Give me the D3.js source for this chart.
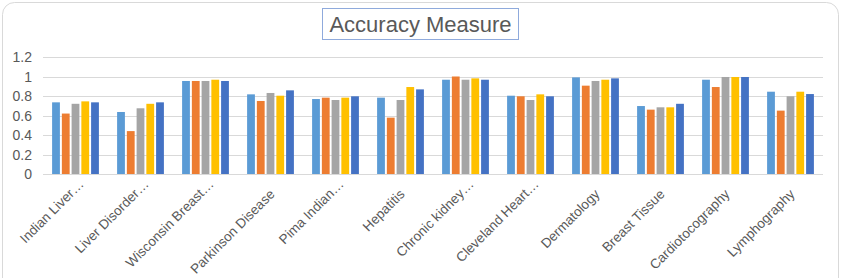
<!DOCTYPE html>
<html><head><meta charset="utf-8">
<script src="https://cdn.jsdelivr.net/npm/d3@7"></script>
<style>
html,body{margin:0;padding:0;background:#fff;}
svg{display:block;font-family:"Liberation Sans",Arial,sans-serif;}
</style></head>
<body><svg id="chart" width="845" height="278"></svg>
<script>
const categories = ["Indian Liver…","Liver Disorder…","Wisconsin Breast…","Parkinson Disease","Pima Indian…","Hepatitis","Chronic kidney…","Cleveland Heart…","Dermatology","Breast Tissue","Cardiotocography","Lymphography"];
const seriesNames = ["S1","S2","S3","S4","S5"];
const s1 = [0.735,0.636,0.954,0.817,0.769,0.783,0.967,0.803,0.991,0.697,0.967,0.844];
const s2 = [0.62,0.44,0.954,0.749,0.783,0.578,1.0,0.797,0.906,0.66,0.892,0.65];
const s3 = [0.72,0.674,0.954,0.831,0.759,0.759,0.967,0.759,0.954,0.684,0.995,0.797];
const s4 = [0.745,0.72,0.967,0.803,0.783,0.892,0.981,0.817,0.967,0.684,0.995,0.844];
const s5 = [0.735,0.735,0.954,0.858,0.797,0.868,0.967,0.797,0.981,0.72,0.995,0.82];
const yTicks = [0,0.2,0.4,0.6,0.8,1,1.2];
const colors = ["#5B9BD5","#ED7D31","#A5A5A5","#FFC000","#4472C4"];
const title = "Accuracy Measure";

(function(){
const series = [s1,s2,s3,s4,s5];
const svg = d3.select("#chart");

// outer chart border
svg.append("rect").attr("x",2.5).attr("y",2.5).attr("width",836).attr("height",320)
  .attr("rx",12).attr("fill","#fff").attr("stroke","#D9D9D9").attr("stroke-width",1);

const pLeft = 43, pRight = 823, pTop = 57, pBottom = 174;
const y = d3.scaleLinear().domain([0,1.2]).range([pBottom, pTop]);
const x0 = d3.scaleBand().domain(categories).range([pLeft,pRight]).paddingInner(0.28).paddingOuter(0.14);
const x1 = d3.scaleBand().domain(seriesNames).range([0,x0.bandwidth()]).paddingInner(0.2);

// gridlines
svg.append("g").selectAll("line").data(yTicks).join("line")
  .attr("x1",pLeft).attr("x2",pRight)
  .attr("y1",d=>Math.round(y(d))+0.5).attr("y2",d=>Math.round(y(d))+0.5)
  .attr("stroke","#D9D9D9").attr("stroke-width",1);

// y labels
svg.append("g").selectAll("text").data(yTicks).join("text")
  .attr("x",32).attr("y",d=>y(d)).attr("dy","0.36em")
  .attr("text-anchor","end").attr("font-size",14).attr("fill","#595959")
  .text(d=>d3.format("~g")(d));

// bars
const groups = svg.append("g").selectAll("g").data(categories).join("g")
  .attr("transform",d=>`translate(${x0(d)},0)`);
groups.selectAll("rect").data((c,i)=>series.map((s,j)=>({k:seriesNames[j],v:s[i],j})))
  .join("rect")
  .attr("x",d=>x1(d.k)).attr("width",x1.bandwidth())
  .attr("y",d=>y(d.v)).attr("height",d=>y(0)-y(d.v))
  .attr("fill",d=>colors[d.j]);

// x labels
svg.append("g").selectAll("text").data(categories).join("text")
  .attr("transform",d=>{
    const c = x0(d)+x0.bandwidth()/2;
    const trunc = d.endsWith("…");
    return trunc ? `translate(${c+9},185) rotate(-45)` : `translate(${c+5},195) rotate(-45)`;
  })
  .attr("text-anchor","end").attr("font-size",13.5).attr("fill","#595959")
  .text(d=>d);

// title
svg.append("rect").attr("x",322.5).attr("y",8.5).attr("width",196).attr("height",31)
  .attr("fill","#fff").attr("stroke","#8FAADC").attr("stroke-width",1);
svg.append("text").attr("x",420.5).attr("y",32).attr("text-anchor","middle")
  .attr("font-size",22).attr("fill","#595959").text(title);
})();
</script></body></html>
